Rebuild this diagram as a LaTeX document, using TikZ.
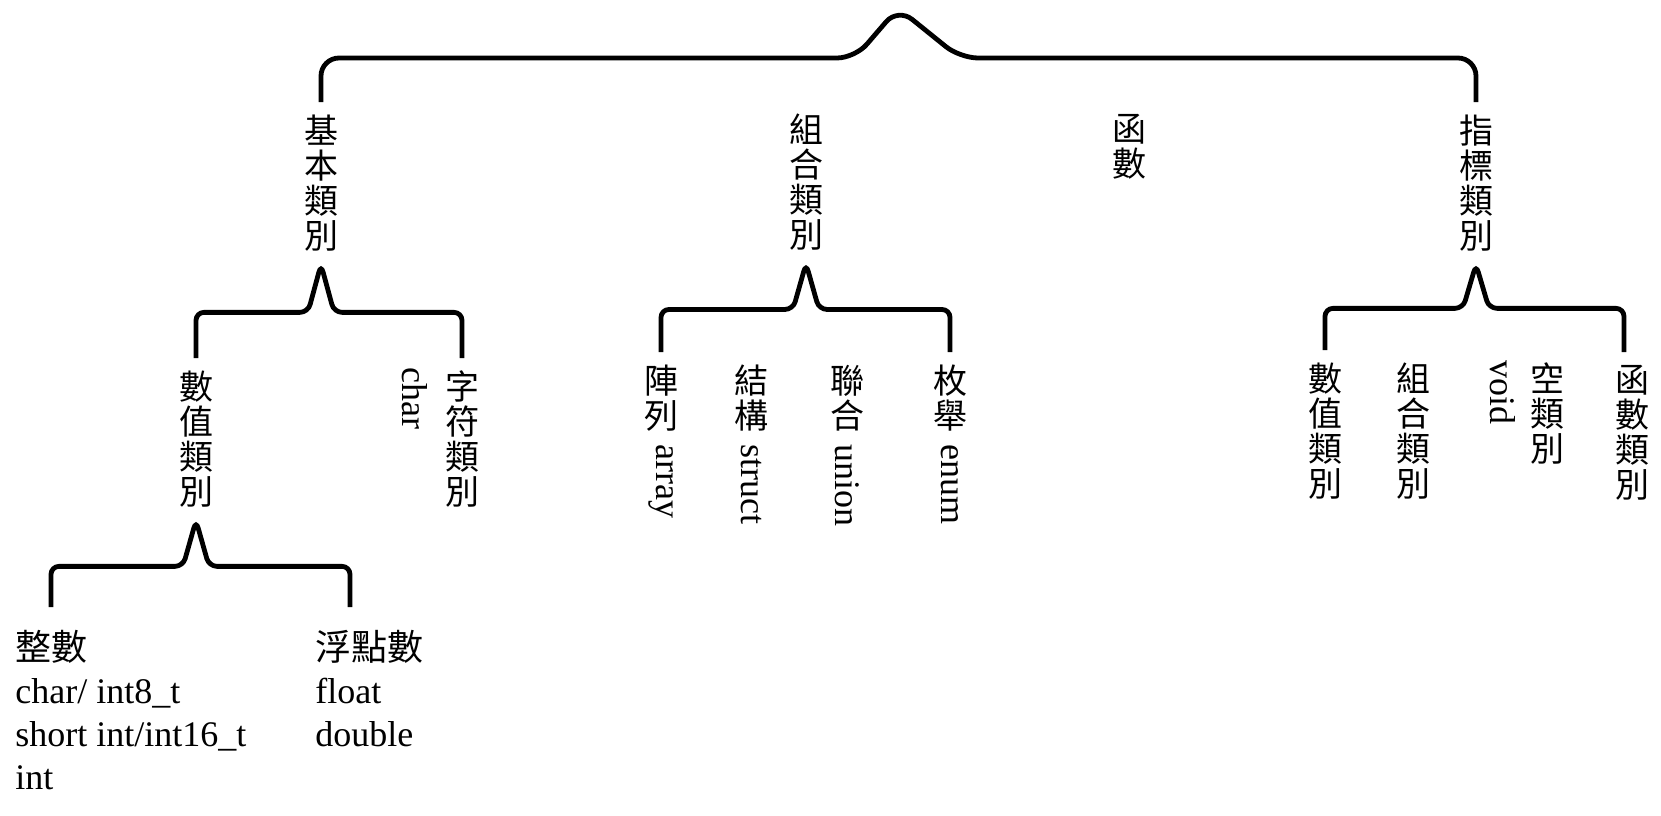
\documentclass[tikz,border=0pt]{standalone}
\usepackage{fontspec}
\setmainfont{Liberation Serif}
\newfontfamily\cjk{Noto Sans CJK TC}
\usetikzlibrary{positioning}

\begin{document}
\begin{tikzpicture}[
  x=0.5pt, y=-0.5pt,
  brace/.style={line width=2.4pt, rounded corners=4pt},
  vlabel/.style={align=center, inner sep=0pt, outer sep=6.5pt, anchor=north,
    font=\cjk\fontsize{17pt}{17.5pt}\selectfont},
  latin/.style={inner sep=0pt, rotate=-90, anchor=west,
    font=\fontsize{18pt}{21.5pt}\selectfont},
  list/.style={align=left, inner sep=0pt, anchor=north west,
    font=\fontsize{18pt}{21.5pt}\selectfont}]
\useasboundingbox (0,0) rectangle (1661,815);
% top level
\node[vlabel] (basic) at (321,102) {基\\本\\類\\別};
\node[vlabel] (compound) at (806,101) {組\\合\\類\\別};
\node[vlabel] (func) at (1129,101) {函\\數};
\node[vlabel] (ptr) at (1476,102) {指\\標\\類\\別};
\draw[brace, rounded corners=9pt] (basic.north) |- (855,58) -- (898,8) -- (960,58) -| (ptr.north);
% basic types
\node[vlabel] (num) at (196,358) {數\\值\\類\\別};
\node[vlabel] (chr) at (462,358) {字\\符\\類\\別};
\node[latin] (chrname) at (415,367) {char};
\draw[brace] (num.north) |- ([shift={(-13,48)}]basic.south) -- (basic.south)
  -- ([shift={(13,48)}]basic.south) -| (chr.north);
% numbers
\node[list] (ints) at (15,630) {{\cjk 整數}\\char/ int8\_t\\short int/int16\_t\\int};
\node[list] (floats) at (315,630) {{\cjk 浮點數}\\float\\double};
\draw[brace] ([shift={(36,-23)}]ints.north west) |- ([shift={(-13,46)}]num.south)
  -- (num.south) -- ([shift={(13,46)}]num.south) -| ([shift={(35,-23)}]floats.north west);
% compound types
\node[vlabel] (arr) at (661,352) {陣\\列};
\node[latin] (arrname) at (arr.south) {array};
\node[vlabel] (struct) at (751,352) {結\\構};
\node[latin] (structname) at (struct.south) {struct};
\node[vlabel] (union) at (847,352) {聯\\合};
\node[latin] (unionname) at (union.south) {union};
\node[vlabel] (enum) at (950,352) {枚\\舉};
\node[latin] (enumname) at (enum.south) {enum};
\draw[brace] (arr.north) |- ([shift={(-13,46)}]compound.south) -- (compound.south)
  -- ([shift={(13,46)}]compound.south) -| (enum.north);
% pointer types
\node[vlabel] (pnum) at (1325,350) {數\\值\\類\\別};
\node[vlabel] (pcomp) at (1413,350) {組\\合\\類\\別};
\node[latin] (voidname) at (1503,360) {void};
\node[vlabel] (pvoid) at (1547,350) {空\\類\\別};
\node[vlabel] (pfunc) at (1632,352) {函\\數\\類\\別};
\draw[brace] (pnum.north) |- ([shift={(-13,44)}]ptr.south) -- (ptr.south)
  -- ([shift={(13,44)}]ptr.south) -| ([xshift=-4pt]pfunc.north);
\end{tikzpicture}
\end{document}
